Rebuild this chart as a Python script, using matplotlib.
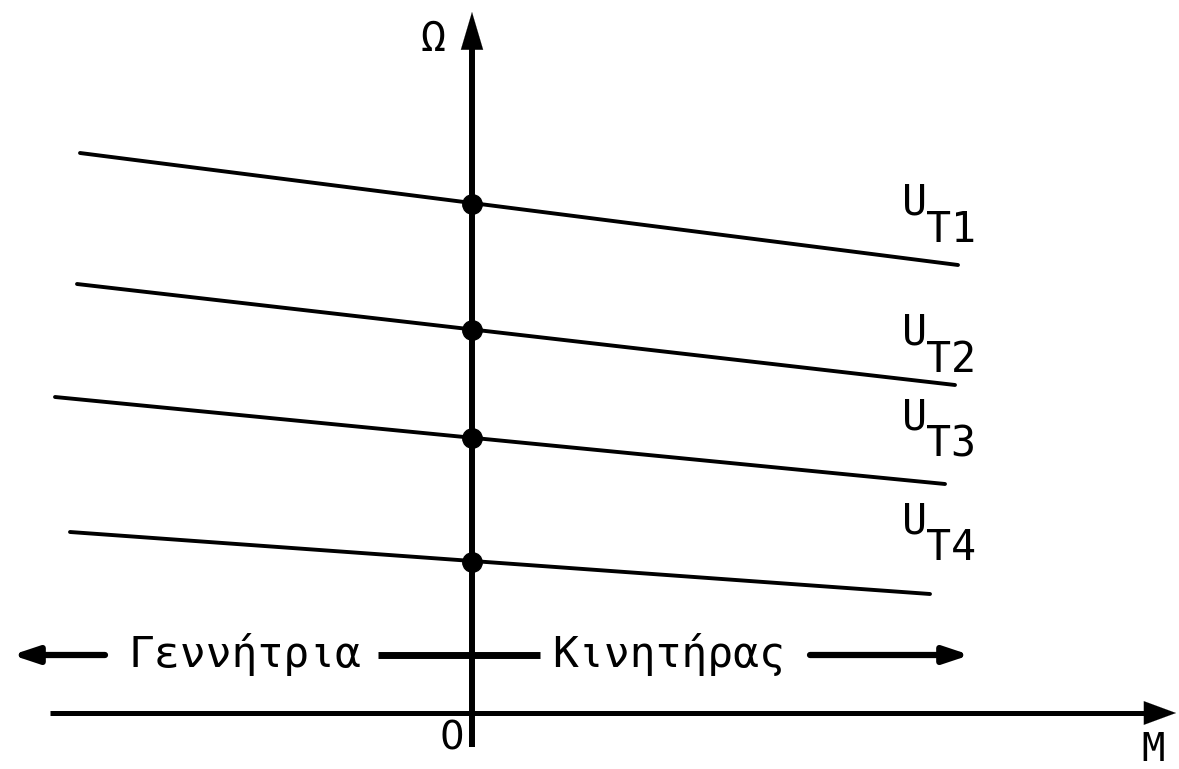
import matplotlib
matplotlib.use("Agg")
import matplotlib.pyplot as plt

# Speed-torque characteristics for four armature voltages
labels = ["1", "2", "3", "4"]
m_left = [-3.92, -3.95, -4.17, -4.02]
m_right = [4.86, 4.83, 4.73, 4.58]
omega_left = [5.60, 4.29, 3.16, 1.81]
omega_right = [4.48, 3.28, 2.29, 1.19]
omega_noload = [5.09, 3.83, 2.75, 1.51]

# Label placement (baseline of the "U" for each curve)
label_m = 4.30
label_omega = [4.98, 3.68, 2.83, 1.80]

fig = plt.figure(figsize=(11.79, 7.69), dpi=100)
ax = fig.add_axes([0, 0, 1, 1])
ax.set_xlim(-4.72, 7.07)
ax.set_ylim(-0.56, 7.13)
ax.axis("off")

font = "DejaVu Sans Mono"
ink = "#000000"

# Axes with arrowheads
ax.plot([0, 0], [-0.34, 6.72], color=ink, lw=4.3, solid_capstyle="butt", zorder=3)
ax.annotate("", xy=(0, 7.01), xytext=(0, 6.40),
            arrowprops=dict(arrowstyle="-|>,head_length=2.7,head_width=0.8",
                            color=ink, lw=0.1, shrinkA=0, shrinkB=0))
ax.plot([-4.22, 6.8], [0, 0], color=ink, lw=3.6, solid_capstyle="butt", zorder=3)
ax.annotate("", xy=(7.04, 0), xytext=(6.5, 0),
            arrowprops=dict(arrowstyle="-|>,head_length=2.3,head_width=0.85",
                            color=ink, lw=0.1, shrinkA=0, shrinkB=0))

# Characteristic lines and no-load points
for ml, mr, ol, orr, o0 in zip(m_left, m_right, omega_left, omega_right, omega_noload):
    ax.plot([ml, mr], [ol, orr], color=ink, lw=2.8, solid_capstyle="round", zorder=2)
    ax.plot([0], [o0], "o", color=ink, ms=14, zorder=4)

for lab, yo in zip(labels, label_omega):
    ax.text(label_m, yo, "U", fontsize=30, family=font, color=ink, va="baseline", ha="left")
    ax.text(label_m + 0.24, yo - 0.27, "T" + lab, fontsize=30, family=font, color=ink,
            va="baseline", ha="left")

# Axis labels
ax.text(-0.39, 6.74, "Ω", fontsize=30, family=font, color=ink, ha="center", va="center")
ax.text(6.81, -0.37, "M", fontsize=28, family=font, color=ink, ha="center", va="center")
ax.text(-0.20, -0.25, "0", fontsize=28, family="DejaVu Sans", color=ink,
        ha="center", va="center")

# Operating-region row: generator (left) / motor (right)
row = 0.58
ax.annotate("", xy=(-4.60, row), xytext=(-3.67, row),
            arrowprops=dict(arrowstyle="-|>,head_length=1.5,head_width=0.5",
                            color=ink, lw=4.5, shrinkA=0, shrinkB=0))
ax.text(-2.27, row, "Γεννήτρια", fontsize=31, family=font, color=ink,
        ha="center", va="center")
ax.plot([-0.94, 0.68], [row, row], color=ink, lw=5.0, solid_capstyle="butt")
ax.text(1.97, row, "Κινητήρας", fontsize=31, family=font, color=ink,
        ha="center", va="center")
ax.annotate("", xy=(4.98, row), xytext=(3.38, row),
            arrowprops=dict(arrowstyle="-|>,head_length=1.5,head_width=0.5",
                            color=ink, lw=4.5, shrinkA=0, shrinkB=0))

fig.savefig("out.png", dpi=100, facecolor="white")
